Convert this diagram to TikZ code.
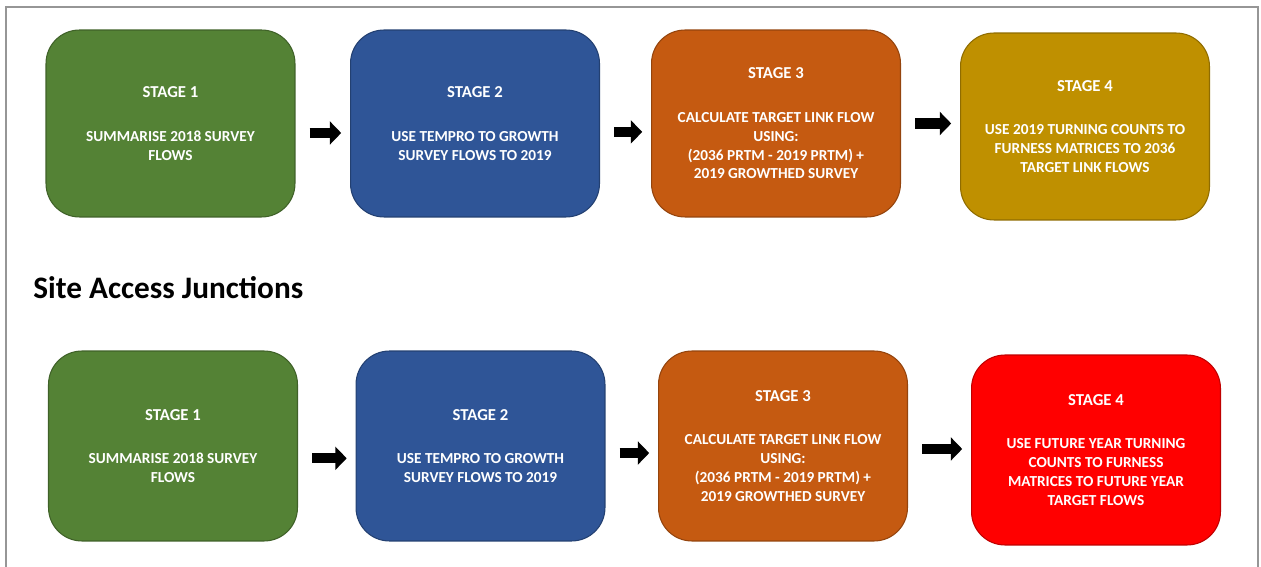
\documentclass[tikz,border=0pt]{standalone}
\usepackage{fontspec}
\setmainfont{Carlito}
\usetikzlibrary{arrows.meta}

\definecolor{stgreen}{RGB}{84,130,53}
\definecolor{stblue}{RGB}{47,85,151}
\definecolor{storange}{RGB}{197,90,17}
\definecolor{stgold}{RGB}{191,144,0}
\definecolor{stred}{RGB}{255,0,0}
\definecolor{framegray}{RGB}{150,150,150}

\tikzset{
  stagebox/.style={draw=#1!75!black, fill=#1, line width=0.6pt, rounded corners=19pt,
    minimum width=4.98cm, minimum height=3.74cm, inner sep=0pt, align=center,
    text=white, font=\bfseries\fontsize{8.7}{10.8}\selectfont},
  flowarrow/.style={line width=5.7pt, -{Triangle[length=6.5pt,width=13pt]},
    shorten <=8pt, shorten >=5pt},
}
\newcommand{\stagehead}[1]{{\fontsize{9.5}{11}\selectfont #1}\\[13.8pt]}

\begin{document}
\begin{tikzpicture}[x=0.02cm, y=-0.02cm]
  \useasboundingbox (0,0) rectangle (1261,567);
  % frame
  \draw [framegray, line width=1.1pt] (6,567) -- (6,7) -- (1258,7) -- (1258,567);

  % upper row
  \node [stagebox=stgreen] (u1) at (170.5,123.5) {\stagehead{STAGE 1}SUMMARISE 2018 SURVEY\\FLOWS};
  \node [stagebox=stblue] (u2) at (475,123.5) {\stagehead{STAGE 2}USE TEMPRO TO GROWTH\\SURVEY FLOWS TO 2019};
  \node [stagebox=storange] (u3) at (776,123.5) {\stagehead{STAGE 3}CALCULATE TARGET LINK FLOW\\USING:\\(2036 PRTM - 2019 PRTM) +\\2019 GROWTHED SURVEY};
  \node [stagebox=stgold] (u4) at (1085,126.5) {\stagehead{STAGE 4}USE 2019 TURNING COUNTS TO\\FURNESS MATRICES TO 2036\\TARGET LINK FLOWS};

  \draw [flowarrow] ([yshift=-5.4pt]u1.east) -- ([yshift=-5.4pt]u1.east -| u2.west);
  \draw [flowarrow] ([yshift=-4.8pt]u2.east) -- ([yshift=-4.8pt]u2.east -| u3.west);
  \draw [flowarrow] (u3.east) -- (u3.east -| u4.west);

  % heading
  \node [anchor=west, inner sep=0pt, font=\bfseries\fontsize{17.8}{20}\selectfont] (title) at (33,288) {Site Access Junctions};

  % lower row
  \node [stagebox=stgreen, minimum height=3.8cm] (l1) at (173,446) {\stagehead{STAGE 1}SUMMARISE 2018 SURVEY\\FLOWS};
  \node [stagebox=stblue, minimum height=3.8cm] (l2) at (480.5,446) {\stagehead{STAGE 2}USE TEMPRO TO GROWTH\\SURVEY FLOWS TO 2019};
  \node [stagebox=storange, minimum height=3.8cm] (l3) at (783,446) {\stagehead{STAGE 3}CALCULATE TARGET LINK FLOW\\USING:\\(2036 PRTM - 2019 PRTM) +\\2019 GROWTHED SURVEY};
  \node [stagebox=stred, minimum height=3.8cm] (l4) at (1096,450) {\stagehead{STAGE 4}USE FUTURE YEAR TURNING\\COUNTS TO FURNESS\\MATRICES TO FUTURE YEAR\\TARGET FLOWS};

  \draw [flowarrow] ([yshift=-7pt]l1.east) -- ([yshift=-7pt]l1.east -| l2.west);
  \draw [flowarrow] ([yshift=-4pt]l2.east) -- ([yshift=-4pt]l2.east -| l3.west);
  \draw [flowarrow] ([yshift=-1.7pt]l3.east) -- ([yshift=-1.7pt]l3.east -| l4.west);
\end{tikzpicture}
\end{document}
